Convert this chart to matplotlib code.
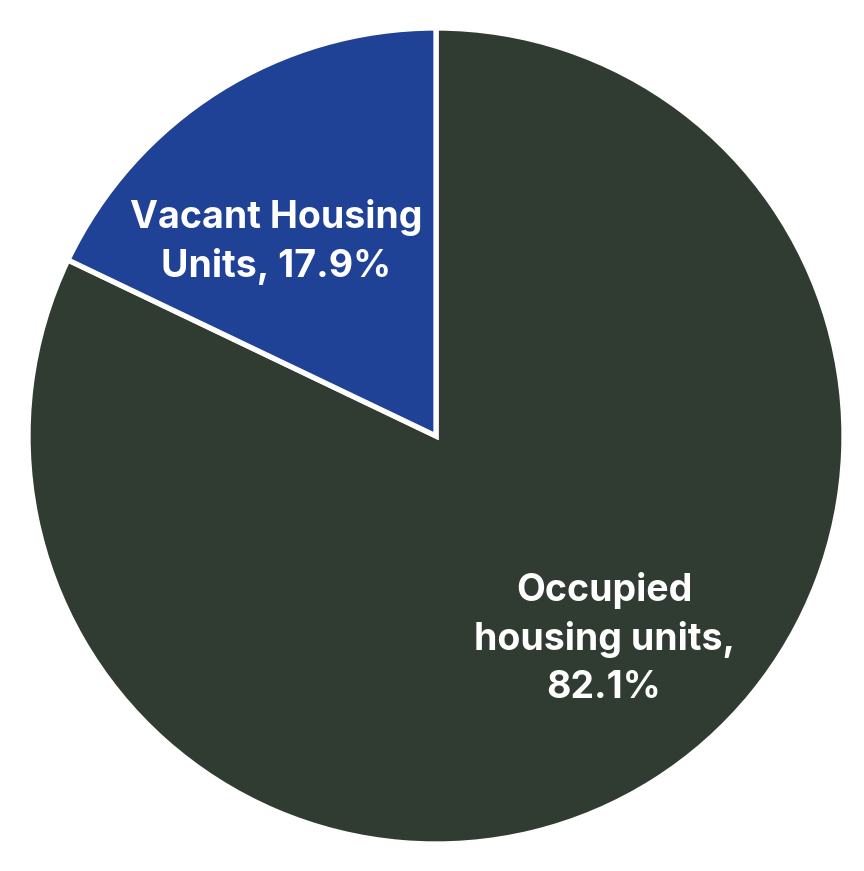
import matplotlib
matplotlib.use("Agg")
import matplotlib.pyplot as plt

labels = ["Occupied\nhousing units,", "Vacant Housing\nUnits,"]
shares = [82.1, 17.9]
colors = ["#303c32", "#1f4196"]

W, H = 864, 871
fig = plt.figure(figsize=(W / 100, H / 100), dpi=100)
cx, cy, r = 436, 436, 408
ax = fig.add_axes([(cx - r) / W, (H - cy - r) / H, 2 * r / W, 2 * r / H])

wedges, _ = ax.pie(
    shares, colors=colors, startangle=90, counterclock=False,
    wedgeprops=dict(edgecolor="white", linewidth=3.8),
)
ax.set_xlim(-1, 1)
ax.set_ylim(-1, 1)
ax.set_aspect("equal")
ax.axis("off")

# label text placed inside each slice
texts = [f"{labels[0]}\n{shares[0]:.1f}%", f"{labels[1]} {shares[1]:.1f}%"]
positions = [(0.412, -0.498), (-0.392, 0.475)]
for t, (x, y) in zip(texts, positions):
    ax.text(x, y, t, ha="center", va="center", color="white",
            fontsize=27, fontweight="bold", family="Inter", linespacing=1.42)

fig.savefig("out.png", dpi=100)
